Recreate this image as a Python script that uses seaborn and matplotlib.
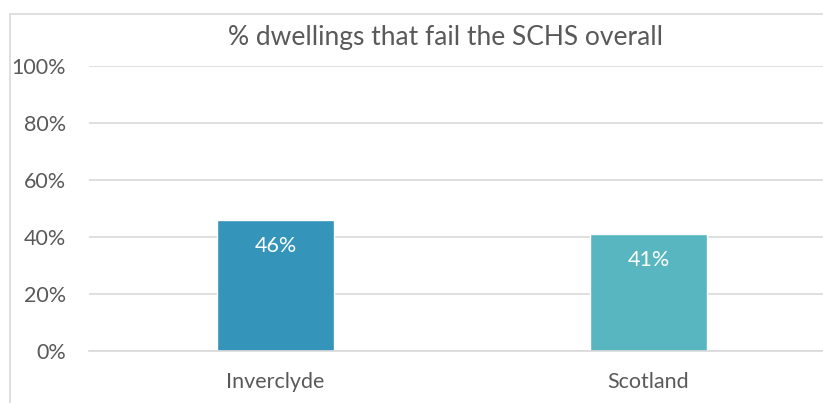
import matplotlib
matplotlib.use("Agg")
import matplotlib.pyplot as plt
from matplotlib.lines import Line2D
import seaborn as sns
import pandas as pd

# Data
areas = ["Inverclyde", "Scotland"]
fail_pct = [46, 41]
bar_colors = ["#3494BA", "#58B6C0"]
y_ticks = [0, 20, 40, 60, 80, 100]
y_tick_labels = ["0%", "20%", "40%", "60%", "80%", "100%"]
title = "% dwellings that fail the SCHS overall"

sns.set_theme(style="white")
plt.rcParams["font.family"] = ["Lato", "DejaVu Sans"]

df = pd.DataFrame({"area": areas, "pct": fail_pct})

W, H = 823, 403
fig = plt.figure(figsize=(W / 100, H / 100), dpi=100)
fig.patch.set_facecolor("white")

# plot area: left edge at 89px, 0% at 351px, 100% at 66px; right side runs off the frame
left, right = 89, 835
y0, y100 = 351, 66
ax = fig.add_axes([left / W, (H - y0) / H, (right - left) / W, (y0 - y100) / H])

sns.barplot(data=df, x="area", y="pct", hue="area", palette=bar_colors,
            width=0.314, legend=False, ax=ax, saturation=1)

ax.set_ylim(0, 100)
ax.set_xlim(-0.5, 1.5)
ax.set_yticks(y_ticks)
ax.set_yticklabels(y_tick_labels)
ax.yaxis.grid(True, color="#D9D9D9", linewidth=1.2)
ax.set_axisbelow(True)
for s in ["left", "right", "top"]:
    ax.spines[s].set_visible(False)
ax.spines["bottom"].set_color("#D9D9D9")
ax.spines["bottom"].set_linewidth(1.2)
ax.tick_params(axis="y", length=0, pad=16.5, labelsize=15.5, labelcolor="#595959")
ax.tick_params(axis="x", length=0, pad=15, labelsize=15.5, labelcolor="#595959")
ax.set_xlabel("")
ax.set_ylabel("")

# value labels inside bars
for cont in ax.containers:
    ax.bar_label(cont, labels=[f"{v:.0f}%" for v in cont.datavalues],
                 label_type="edge", padding=-26, color="white", fontsize=15.5)

fig.text(445 / W, 1 - 45 / H, title, ha="center", va="baseline",
         fontsize=19, color="#595959")

# chart frame (left and top edges visible)
fig.add_artist(Line2D([9.5 / W, 9.5 / W], [0, 1 - 13.5 / H], color="#D9D9D9",
                      linewidth=1.2, transform=fig.transFigure))
fig.add_artist(Line2D([9.5 / W, 1], [1 - 13.5 / H, 1 - 13.5 / H], color="#D9D9D9",
                      linewidth=1.2, transform=fig.transFigure))

fig.savefig("out.png", dpi=100, facecolor="white")
